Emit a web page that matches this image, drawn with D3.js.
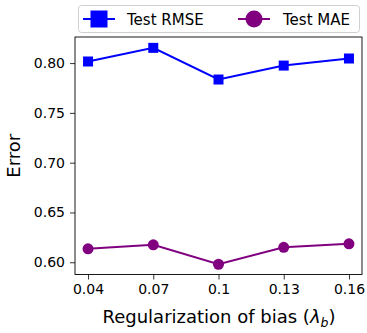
<!DOCTYPE html>
<html><head><meta charset="utf-8">
<script src="https://cdn.jsdelivr.net/npm/d3@7"></script>
<style>body{margin:0;background:#fff}svg{display:block;font-family:"DejaVu Sans",sans-serif}</style>
</head><body><svg id="c" width="367" height="333"></svg>
<script>
const xValues = [0.04, 0.07, 0.1, 0.13, 0.16];
const xTickLabels = ["0.04", "0.07", "0.1", "0.13", "0.16"];
const rmse = [0.8016, 0.8153, 0.7835, 0.7975, 0.8046];
const mae = [0.6135, 0.6175, 0.5980, 0.6150, 0.6185];
const yTicks = [0.60, 0.65, 0.70, 0.75, 0.80];
const seriesNames = ["Test RMSE", "Test MAE"];
const colors = ["#0000ff", "#800080"];

const svg = d3.select("#c");
const L = 75, R = 362, T = 37, B = 274.5;
const x = d3.scaleLinear().domain([0.034, 0.166]).range([L, R]);
const y = d3.scaleLinear().domain([0.5877, 0.8262]).range([B, T]);

// axes
const xa = svg.append("g").attr("transform", `translate(0,${B})`)
  .call(d3.axisBottom(x).tickValues(xValues).tickFormat((d, i) => xTickLabels[i]).tickSize(5).tickPadding(5));
const ya = svg.append("g").attr("transform", `translate(${L},0)`)
  .call(d3.axisLeft(y).tickValues(yTicks).tickFormat(d3.format(".2f")).tickSize(5).tickPadding(5));
[xa, ya].forEach(a => {
  a.select(".domain").remove();
  a.selectAll("text").attr("font-size", 14).attr("fill", "#000").attr("font-family", "DejaVu Sans");
  a.selectAll("line").attr("stroke", "#000").attr("stroke-width", 0.8);
});
svg.append("rect").attr("x", L).attr("y", T).attr("width", R - L).attr("height", B - T)
  .attr("fill", "none").attr("stroke", "#000").attr("stroke-width", 0.9);

// labels
svg.append("text").attr("x", 219).attr("y", 323).attr("text-anchor", "middle")
  .attr("font-size", 18).attr("fill", "#000")
  .html('Regularization of bias (<tspan font-style="italic">λ</tspan><tspan font-style="italic" font-size="12.5" dy="4">b</tspan><tspan dy="-4">)</tspan>');
svg.append("text").attr("transform", `translate(20,${(T + B) / 2}) rotate(-90)`).attr("text-anchor", "middle")
  .attr("font-size", 18).attr("fill", "#000").text("Error");

const line = d3.line().x((d, i) => x(xValues[i])).y(d => y(d));
// RMSE
svg.append("path").datum(rmse).attr("d", line).attr("fill", "none").attr("stroke", colors[0]).attr("stroke-width", 2);
svg.selectAll(".sq").data(rmse).enter().append("rect")
  .attr("x", (d, i) => x(xValues[i]) - 5).attr("y", d => y(d) - 5).attr("width", 10).attr("height", 10).attr("fill", colors[0]);
// MAE
svg.append("path").datum(mae).attr("d", line).attr("fill", "none").attr("stroke", colors[1]).attr("stroke-width", 2);
svg.selectAll(".ci").data(mae).enter().append("circle")
  .attr("cx", (d, i) => x(xValues[i])).attr("cy", d => y(d)).attr("r", 5.5).attr("fill", colors[1]);

// legend
svg.append("rect").attr("x", 78.5).attr("y", 5.5).attr("width", 281).attr("height", 27).attr("rx", 3)
  .attr("fill", "#fff").attr("stroke", "#d0d0d0").attr("stroke-width", 1);
const ly = 19;
svg.append("line").attr("x1", 83).attr("x2", 115).attr("y1", ly).attr("y2", ly).attr("stroke", colors[0]).attr("stroke-width", 2);
svg.append("rect").attr("x", 99 - 8.5).attr("y", ly - 8.5).attr("width", 17).attr("height", 17).attr("fill", colors[0]);
svg.append("text").attr("x", 127).attr("y", ly + 6).attr("font-size", 15).attr("fill", "#000").text(seriesNames[0]);
svg.append("line").attr("x1", 238).attr("x2", 270).attr("y1", ly).attr("y2", ly).attr("stroke", colors[1]).attr("stroke-width", 2);
svg.append("circle").attr("cx", 254).attr("cy", ly).attr("r", 8.5).attr("fill", colors[1]);
svg.append("text").attr("x", 283).attr("y", ly + 6).attr("font-size", 15).attr("fill", "#000").text(seriesNames[1]);
</script></body></html>
